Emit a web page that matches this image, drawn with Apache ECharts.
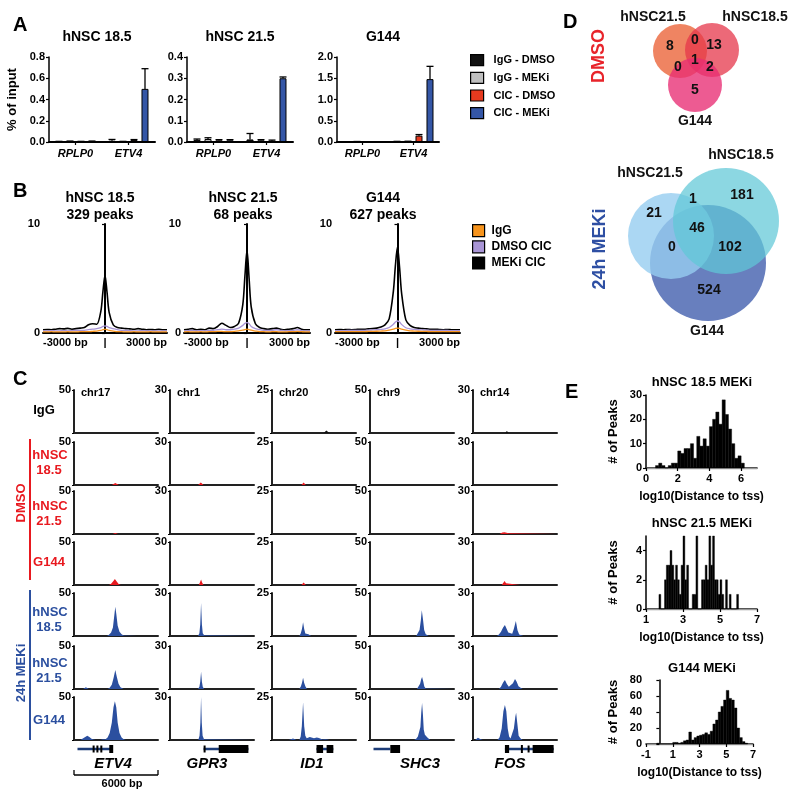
<!DOCTYPE html>
<html><head><meta charset="utf-8">
<script src="https://cdn.jsdelivr.net/npm/echarts@6/dist/echarts.min.js"></script>
<style>html,body{margin:0;padding:0;background:#fff}#c{width:800px;height:803px}</style>
</head><body><div id="c"></div>
<script>
const F = '"Liberation Sans", Arial, Helvetica, sans-serif';

// ================= Panel A data =================
const A_CATEGORIES = ['RPLP0', 'ETV4'];
const A_SERIES = ['IgG - DMSO', 'IgG - MEKi', 'CIC - DMSO', 'CIC - MEKi'];
const A_TITLES = ['hNSC 18.5', 'hNSC 21.5', 'G144'];
const A_Y_MAX = [0.8, 0.4, 2.0];
const A_Y_STEP = [0.2, 0.1, 0.5];
const A_HNSC185 = [[0.004, 0.012], [0.006, 0.004], [0.004, 0.018], [0.006, 0.50]];
const A_HNSC185_ERR = [[0.002, 0.012], [0.003, 0.002], [0.002, 0.005], [0.003, 0.19]];
const A_HNSC215 = [[0.010, 0.012], [0.014, 0.008], [0.008, 0.006], [0.008, 0.30]];
const A_HNSC215_ERR = [[0.004, 0.028], [0.006, 0.003], [0.003, 0.003], [0.003, 0.006]];
const A_G144 = [[0.004, 0.010], [0.008, 0.012], [0.004, 0.15], [0.004, 1.48]];
const A_G144_ERR = [[0.003, 0.005], [0.004, 0.006], [0.002, 0.025], [0.003, 0.30]];

// ================= Panel B data =================
const B_SERIES = ['IgG', 'DMSO CIC', 'MEKi CIC'];
const B_TITLES = [['hNSC 18.5', '329 peaks'], ['hNSC 21.5', '68 peaks'], ['G144', '627 peaks']];
const B_POS = [-3000,-2800,-2600,-2400,-2200,-2000,-1800,-1600,-1400,-1200,-1000,-800,-600,-400,-200,-100,0,100,200,400,600,800,1000,1200,1400,1600,1800,2000,2200,2400,2600,2800,3000];
const B_HNSC185_IGG  = [0.1,0.1,0.12,0.1,0.1,0.1,0.12,0.1,0.1,0.12,0.12,0.12,0.15,0.18,0.24,0.3,0.35,0.3,0.24,0.18,0.12,0.12,0.1,0.1,0.12,0.1,0.1,0.1,0.12,0.1,0.1,0.1,0.1];
const B_HNSC185_DMSO = [0.2,0.2,0.22,0.2,0.2,0.22,0.2,0.22,0.25,0.25,0.25,0.3,0.35,0.4,0.5,0.6,0.65,0.6,0.5,0.4,0.3,0.25,0.25,0.22,0.2,0.2,0.22,0.2,0.2,0.2,0.2,0.2,0.2];
const B_HNSC185_MEKI = [0.3,0.32,0.3,0.35,0.4,0.38,0.42,0.35,0.4,0.45,0.5,0.75,0.85,0.8,2.0,3.8,5.3,3.7,1.9,0.75,0.5,0.45,0.4,0.38,0.35,0.4,0.35,0.3,0.32,0.3,0.35,0.3,0.3];
const B_HNSC215_IGG  = [0.1,0.12,0.1,0.1,0.12,0.1,0.12,0.12,0.15,0.15,0.12,0.12,0.15,0.2,0.26,0.32,0.35,0.32,0.26,0.18,0.12,0.12,0.1,0.12,0.12,0.1,0.1,0.12,0.12,0.15,0.12,0.1,0.1];
const B_HNSC215_DMSO = [0.2,0.22,0.25,0.2,0.22,0.2,0.25,0.25,0.3,0.35,0.3,0.3,0.35,0.45,0.7,0.88,0.95,0.85,0.6,0.4,0.3,0.25,0.25,0.25,0.3,0.25,0.2,0.22,0.25,0.3,0.22,0.2,0.2];
const B_HNSC215_MEKI = [0.3,0.35,0.4,0.3,0.35,0.3,0.45,0.4,0.6,0.9,0.7,0.5,0.6,0.9,2.6,5.2,7.6,5.0,2.4,0.85,0.5,0.4,0.35,0.4,0.45,0.35,0.3,0.35,0.4,0.5,0.35,0.3,0.3];
const B_G144_IGG  = [0.12,0.12,0.12,0.12,0.12,0.12,0.13,0.13,0.14,0.15,0.16,0.18,0.2,0.27,0.36,0.42,0.45,0.42,0.36,0.27,0.2,0.18,0.16,0.15,0.14,0.13,0.13,0.12,0.12,0.12,0.12,0.12,0.12];
const B_G144_DMSO = [0.22,0.22,0.22,0.23,0.23,0.24,0.25,0.25,0.26,0.28,0.3,0.33,0.38,0.5,0.8,1.0,1.1,1.0,0.78,0.48,0.38,0.33,0.3,0.28,0.26,0.25,0.25,0.24,0.23,0.23,0.22,0.22,0.22];
const B_G144_MEKI = [0.3,0.32,0.3,0.32,0.3,0.32,0.35,0.35,0.38,0.4,0.45,0.55,0.75,1.3,3.8,6.2,7.9,6.0,3.6,1.2,0.7,0.5,0.45,0.4,0.38,0.35,0.35,0.32,0.3,0.32,0.3,0.3,0.3];

// ================= Panel C data ([bp position, coverage]) =================
const C_GENES = ['ETV4', 'GPR3', 'ID1', 'SHC3', 'FOS'];
const C_CHROMS = ['chr17', 'chr1', 'chr20', 'chr9', 'chr14'];
const C_YMAX = [50, 30, 25, 50, 30];
// tracks per gene: IgG, DMSO hNSC18.5, DMSO hNSC21.5, DMSO G144, MEKi hNSC18.5, MEKi hNSC21.5, MEKi G144
const C_ETV4 = [
  [[0,0],[1050,0],[1120,0.8],[1200,0],[1450,0],[1520,0.6],[1600,0],[4250,0],[4320,0.5],[4400,0],[4750,0],[4820,0.4],[4900,0],[6000,0]],
  [[0,0],[2700,0],[2820,1.2],[2950,2.2],[3080,1.2],[3200,0],[4700,0],[4780,0.5],[4860,0],[6000,0]],
  [[0,0],[2750,0],[2850,1],[2950,1.2],[3050,0.6],[3150,0],[6000,0]],
  [[0,0],[2500,0],[2650,1.5],[2800,4.5],[2920,7],[3050,4],[3200,1],[3350,0],[6000,0]],
  [[0,0],[650,0],[720,0.8],[800,0],[1450,0],[1520,0.6],[1600,0],[2350,0],[2500,1.5],[2650,4],[2780,10],[2880,24],[2950,34],[3020,26],[3120,12],[3250,5],[3400,2],[3550,0.6],[3650,0],[4500,0],[4560,0.5],[4650,0],[6000,0]],
  [[0,0],[650,0],[750,1.2],[850,2],[950,1],[1050,0],[2400,0],[2550,1.5],[2700,5],[2830,13],[2950,22],[3060,14],[3180,6],[3320,2],[3450,0.5],[3550,0],[6000,0]],
  [[0,0],[450,0],[600,1.5],[800,3.5],[950,5],[1100,3.5],[1250,1.5],[1400,0.5],[1550,0],[1850,0],[1950,1.5],[2050,1],[2250,1],[2400,3],[2550,8],[2700,20],[2820,38],[2920,45],[3020,38],[3120,20],[3250,8],[3400,3],[3550,1],[3700,0],[6000,0]]
];
const C_GPR3 = [
  [[0,0],[1850,0],[1900,0.5],[1950,0],[2700,0],[2750,0.4],[2800,0],[3800,0],[3850,0.6],[3900,0],[6000,0]],
  [[0,0],[2000,0],[2100,0.8],[2200,1.8],[2300,0.8],[2400,0],[6000,0]],
  [[0,0],[2000,0],[2060,0.5],[2120,0],[2320,0],[2380,0.5],[2440,0],[5150,0],[5200,0.4],[5260,0],[6000,0]],
  [[0,0],[2050,0],[2130,1.5],[2220,3.8],[2300,1.5],[2400,0],[4650,0],[4720,1.2],[4800,0],[6000,0]],
  [[0,0],[1650,0],[1700,0.5],[1760,0],[2000,0],[2100,2],[2160,8],[2220,23],[2280,8],[2340,2],[2440,0.5],[2540,0],[6000,0]],
  [[0,0],[2000,0],[2100,1.5],[2160,5],[2220,12],[2280,5],[2340,1.5],[2440,0],[6000,0]],
  [[0,0],[1550,0],[1620,0.6],[1700,0],[2020,0],[2110,3],[2170,12],[2220,30],[2270,12],[2330,3],[2430,0.5],[2530,0],[6000,0]]
];
const C_ID1 = [
  [[0,0],[250,0],[330,1],[400,0],[1700,0],[1780,0.6],[1850,0],[3150,0],[3230,1],[3300,0],[3700,0],[3760,0.8],[3820,0.5],[3880,1.4],[3950,1.5],[4020,0.6],[4100,0],[4800,0],[4860,0.4],[4920,0],[5400,0],[5460,0.4],[5520,0],[6000,0]],
  [[0,0],[2100,0],[2180,1],[2260,1.5],[2340,0.6],[2420,0],[3250,0],[3300,0.8],[3360,0.5],[3420,0],[3800,0],[3870,0.8],[3940,0],[5800,0],[5880,0.5],[5960,0],[6000,0]],
  [[0,0],[2150,0],[2220,0.6],[2300,0],[3250,0],[3300,0.5],[3360,0],[3650,0],[3700,0.5],[3760,0],[6000,0]],
  [[0,0],[350,0],[420,0.5],[490,0],[1050,0],[1110,0.5],[1170,0],[2100,0],[2180,1],[2260,1.5],[2340,0.8],[2420,0],[2900,0],[2960,0.4],[3020,0],[4100,0],[4170,0.6],[4240,0],[5100,0],[5160,0.8],[5230,0],[6000,0]],
  [[0,0],[350,0],[420,0.4],[490,0],[1950,0],[2050,1.5],[2140,4],[2220,8],[2300,4],[2380,1.5],[2500,0.8],[2600,1],[2700,0.5],[2800,0],[3300,0],[3380,0.5],[3460,0],[3900,0],[3960,0.5],[4040,0],[6000,0]],
  [[0,0],[500,0],[570,0.4],[640,0],[800,0],[870,0.4],[940,0],[1950,0],[2060,1.5],[2140,3.5],[2220,6.5],[2300,3.5],[2390,1.5],[2500,0],[5350,0],[5420,0.4],[5500,0],[6000,0]],
  [[0,0],[1200,0],[1350,0.5],[1500,0.8],[1600,0.4],[1750,0],[1950,0],[2050,2],[2130,8],[2220,22],[2300,8],[2380,2.5],[2480,1],[2600,2],[2700,1.8],[2800,0.8],[3000,1],[3200,1.5],[3350,1.2],[3450,0.6],[3600,0.3],[3800,0.5],[3950,0.3],[4100,0],[6000,0]]
];
const C_SHC3 = [
  [[0,0],[1250,0],[1320,0.5],[1390,0],[2700,0],[2760,0.4],[2820,0],[3150,0],[3220,0.8],[3300,0],[6000,0]],
  [[0,0],[3150,0],[3220,0.5],[3290,0],[3500,0],[3570,0.5],[3640,0],[6000,0]],
  [[0,0],[3500,0],[3560,0.6],[3630,0],[6000,0]],
  [[0,0],[3550,0],[3620,0.4],[3690,0],[6000,0]],
  [[0,0],[2000,0],[2080,0.4],[2160,0],[2600,0],[2680,0.4],[2760,0],[3300,0],[3420,2],[3540,7],[3630,18],[3700,30],[3780,20],[3870,7],[3980,2],[4100,0.5],[4200,0],[6000,0]],
  [[0,0],[3350,0],[3480,2],[3580,6],[3650,11],[3720,14],[3800,9],[3880,3],[3980,0.5],[4080,0],[6000,0]],
  [[0,0],[2500,0],[2580,0.4],[2660,0],[3150,0],[3300,1.5],[3420,4],[3520,6],[3600,15],[3660,32],[3720,43],[3780,30],[3840,12],[3920,6],[4000,5],[4100,3],[4200,1],[4300,0],[6000,0]]
];
const C_FOS = [
  [[0,0],[500,0],[570,1],[640,0.5],[700,0],[2300,0],[2370,1],[2420,1.4],[2480,0.8],[2550,0],[3500,0],[3560,0.5],[3620,0],[3900,0],[3960,0.4],[4020,0],[5400,0],[5460,0.5],[5520,0],[6000,0]],
  [[0,0],[2300,0],[2360,0.5],[2420,0],[2600,0],[2680,1],[2760,0],[4400,0],[4460,0.5],[4520,0],[5500,0],[5570,0.6],[5640,0],[6000,0]],
  [[0,0],[1900,0],[1980,0.8],[2100,1],[2250,1.2],[2400,0.8],[2550,0.5],[2700,0.6],[2800,0],[6000,0]],
  [[0,0],[300,0],[360,0.4],[420,0],[1000,0],[1060,0.4],[1120,0],[2050,0],[2150,1],[2260,2.8],[2360,1.2],[2460,0],[3350,0],[3420,0.5],[3490,0],[4100,0],[4160,0.5],[4220,0],[4950,0],[5020,0.5],[5090,0],[5700,0],[5780,0.6],[5860,0],[6000,0]],
  [[0,0],[350,0],[420,0.5],[490,0],[800,0],[880,0.5],[960,0],[1700,0],[1850,1],[2000,3],[2150,6],[2280,7.7],[2400,5],[2520,2.5],[2650,1.5],[2800,1.5],[2920,5],[3060,10.5],[3180,4],[3300,1],[3450,0.5],[3600,0],[5700,0],[5780,0.4],[5860,0],[6000,0]],
  [[0,0],[350,0],[430,0.4],[510,0],[1850,0],[2000,1.5],[2150,4.5],[2280,6.3],[2420,3.5],[2560,1.5],[2700,1.5],[2850,4],[3000,7],[3120,5],[3250,2],[3400,0.8],[3550,0],[6000,0]],
  [[0,0],[150,0],[250,1],[350,1.5],[450,1],[550,0.5],[700,0],[1000,0],[1080,0.4],[1160,0],[1750,0],[1900,2],[2050,8],[2170,20],[2280,24.4],[2380,20],[2480,8],[2580,2.5],[2680,1],[2800,2],[2920,8],[3020,16],[3080,19],[3160,12],[3260,3],[3400,1],[3550,0],[6000,0]]
];
// gene models: [start bp, end bp, kind]  kind 0 = intron line, 1 = exon, 2 = small exon
const C_MODEL_ETV4 = [[250,2780,0],[1330,1400,2],[1600,1660,2],[1880,1950,2],[2520,2800,1]];
const C_MODEL_GPR3 = [[2400,5600,0],[2400,2460,2],[3480,5600,1]];
const C_MODEL_ID1  = [[3180,4380,0],[3180,3650,1],[3900,4380,1]];
const C_MODEL_SHC3 = [[250,1450,0],[1450,2150,1]];
const C_MODEL_FOS  = [[2280,5760,0],[2280,2580,1],[3420,3540,1],[3900,3960,2],[4260,5760,1]];
const C_SCALE_BP = 6000;

// ================= Panel D data =================
const D_DMSO_CIRCLES = [[120,51,27],[152,50,27],[135,85,27]];   // hNSC21.5, hNSC18.5, G144
const D_DMSO_COUNTS = [['8',110,46],['0',135,40],['13',154,45],['1',135,60],['0',118,67],['2',150,67],['5',135,90]];
const D_DMSO_SETS = [['hNSC21.5',93,17],['hNSC18.5',195,17],['G144',135,121]];
const D_MEKI_CIRCLES = [[148,263,58],[111,236,43],[166,221,53]]; // G144, hNSC21.5, hNSC18.5
const D_MEKI_COUNTS = [['21',94,213],['1',133,199],['181',182,195],['46',137,228],['0',112,247],['102',170,247],['524',149,290]];
const D_MEKI_SETS = [['hNSC21.5',90,173],['hNSC18.5',181,155],['G144',147,331]];

// ================= Panel E data =================
const E_TITLES = ['hNSC 18.5 MEKi', 'hNSC 21.5 MEKi', 'G144 MEKi'];
const E1_BIN_START = [0.6,0.8,1.0,1.2,1.4,1.6,1.8,2.0,2.2,2.4,2.6,2.8,3.0,3.2,3.4,3.6,3.8,4.0,4.2,4.4,4.6,4.8,5.0,5.2,5.4,5.6,5.8,6.0];
const E1_COUNTS    = [1,2,1,0,1,2,2,7,6,8,8,10,4,13,9,12,9,17,20,23,18,28,22,16,10,4,5,2];
const E2_BIN_START = [1.7,1.8,1.9,2.0,2.1,2.2,2.3,2.4,2.5,2.6,2.7,2.8,2.9,3.0,3.1,3.2,3.3,3.4,3.5,3.6,3.7,3.8,3.9,4.0,4.1,4.2,4.3,4.4,4.5,4.6,4.7,4.8,4.9,5.0,5.1,5.2,5.3,5.4,5.5,5.6,5.7,5.8,5.9];
const E2_COUNTS    = [1,0,0,2,3,3,4,3,2,3,2,1,3,5,2,3,0,0,1,1,5,0,0,2,2,3,2,5,3,5,2,2,1,2,1,0,2,0,1,0,0,0,1];
const E3_BIN_START = [-0.2,0.0,0.2,0.4,0.6,0.8,1.0,1.2,1.4,1.6,1.8,2.0,2.2,2.4,2.6,2.8,3.0,3.2,3.4,3.6,3.8,4.0,4.2,4.4,4.6,4.8,5.0,5.2,5.4,5.6,5.8,6.0,6.2,6.4];
const E3_COUNTS    = [1,0,0,0,0,0,2,2,1,2,4,5,15,5,8,10,11,12,14,12,16,25,30,40,47,55,67,57,55,45,20,8,3,1];

// ================= build =================
function merge(a, b) {
  const o = Object.assign({}, a);
  for (const k in b) {
    const v = b[k];
    if (v && typeof v === 'object' && !Array.isArray(v) && a[k] && typeof a[k] === 'object' && !Array.isArray(a[k])) o[k] = merge(a[k], v);
    else o[k] = v;
  }
  return o;
}
const AX = {
  splitLine: { show: false },
  axisLine: { show: true, lineStyle: { color: '#000', width: 1.5 } },
  axisTick: { show: true, length: 3, lineStyle: { color: '#000', width: 1.2 } },
  axisLabel: { color: '#000', fontFamily: F, fontWeight: 'bold', fontSize: 11, margin: 4 },
  nameTextStyle: { color: '#000', fontFamily: F, fontWeight: 'bold', fontSize: 13 }
};
const HIDDEN = { show: false, splitLine: { show: false } };

const grids = [], xAxis = [], yAxis = [], series = [], graphic = [];
function addGrid(g, xa, ya) {
  grids.push(g);
  const gi = grids.length - 1;
  xa.gridIndex = gi; ya.gridIndex = gi;
  xAxis.push(xa); yAxis.push(ya);
  return { xi: xAxis.length - 1, yi: yAxis.length - 1, gi };
}
function T(text, x, y, size, o) {
  o = o || {};
  graphic.push({
    type: 'text', x, y, rotation: o.rot || 0, silent: true, z: 100,
    style: {
      text, fill: o.color || '#000',
      font: (o.italic ? 'italic ' : '') + (o.normal ? '' : 'bold ') + size + 'px ' + F,
      align: o.align || 'center', verticalAlign: 'middle',
      textAlign: o.align || 'center', textVerticalAlign: 'middle'
    }
  });
}
function L(x1, y1, x2, y2, color, w) {
  graphic.push({ type: 'line', silent: true, shape: { x1, y1, x2, y2 }, style: { stroke: color, lineWidth: w } });
}

// ---------- Panel A ----------
const A_VALUES = [A_HNSC185, A_HNSC215, A_G144];
const A_ERRORS = [A_HNSC185_ERR, A_HNSC215_ERR, A_G144_ERR];
const A_COLORS = ['#111111', '#bfbfbf', '#e63a1f', '#3456a6'];
const A_GRIDS = [
  { left: 49, top: 57, width: 106, height: 85 },
  { left: 187, top: 57, width: 106, height: 85 },
  { left: 337, top: 57, width: 102, height: 85 }
];
const A_TITLE_X = [97, 240, 383];
A_GRIDS.forEach((g, gi) => {
  const ax = addGrid(g,
    merge(AX, { type: 'category', data: A_CATEGORIES, axisLine: { lineStyle: { width: 2 } }, axisTick: { alignWithLabel: true, length: 3 }, axisLabel: { fontStyle: 'italic', margin: 6 } }),
    merge(AX, { type: 'value', min: 0, max: A_Y_MAX[gi], interval: A_Y_STEP[gi], axisLabel: { formatter: v => v.toFixed(1) },
      name: gi === 0 ? '% of input' : '', nameLocation: 'middle', nameGap: 30, nameRotate: 90 }));
  A_SERIES.forEach((nm, k) => {
    series.push({ type: 'bar', name: nm, xAxisIndex: ax.xi, yAxisIndex: ax.yi, data: A_VALUES[gi][k], barWidth: 7, barGap: '57%',
      itemStyle: { color: A_COLORS[k], borderColor: '#000', borderWidth: 1 }, z: 2, silent: true });
  });
  A_SERIES.forEach((nm, k) => {
    const off = (k - 1.5) * 11;
    series.push({ type: 'custom', xAxisIndex: ax.xi, yAxisIndex: ax.yi, silent: true, z: 3,
      data: A_CATEGORIES.map((c, ci) => [ci, A_VALUES[gi][k][ci], A_ERRORS[gi][k][ci]]),
      renderItem: (p, api) => {
        const c = api.value(0), v = api.value(1), e = api.value(2);
        const p0 = api.coord([c, v]), p1 = api.coord([c, v + e]);
        const x = p0[0] + off;
        return { type: 'group', children: [
          { type: 'line', shape: { x1: x, y1: p0[1], x2: x, y2: p1[1] }, style: { stroke: '#000', lineWidth: 1.3 } },
          { type: 'line', shape: { x1: x - 3.5, y1: p1[1], x2: x + 3.5, y2: p1[1] }, style: { stroke: '#000', lineWidth: 1.3 } }
        ] };
      } });
  });
  T(A_TITLES[gi], A_TITLE_X[gi], 37, 14);
});
T('A', 13, 25, 20, { align: 'left' });

// ---------- Panel B ----------
const B_DATA = [
  [B_HNSC185_IGG, B_HNSC185_DMSO, B_HNSC185_MEKI],
  [B_HNSC215_IGG, B_HNSC215_DMSO, B_HNSC215_MEKI],
  [B_G144_IGG, B_G144_DMSO, B_G144_MEKI]
];
const B_COLORS = ['#f7941d', '#a995d6', '#000000'];
const B_GRIDS = [
  { left: 43, top: 224, width: 124, height: 109 },
  { left: 184, top: 224, width: 126, height: 109 },
  { left: 335, top: 224, width: 125, height: 109 }
];
const B_TITLE_X = [100, 243, 383];
B_GRIDS.forEach((g, gi) => {
  const ax = addGrid(g,
    merge(AX, { type: 'value', min: -3000, max: 3000, interval: 3000, axisLine: { lineStyle: { width: 2 } }, axisTick: { show: false },
      axisLabel: { fontSize: 11, margin: 4, alignMinLabel: 'left', alignMaxLabel: 'right', formatter: v => v === 0 ? '|' : (v + ' bp') } }),
    merge(AX, { type: 'value', min: 0, max: 10, interval: 10, axisLine: { lineStyle: { width: 2 } }, axisLabel: { margin: 3 } }));
  [2, 1, 0].forEach(k => {
    series.push({ type: 'line', name: B_SERIES[k], xAxisIndex: ax.xi, yAxisIndex: ax.yi, color: B_COLORS[k],
      data: B_POS.map((p, i) => [p, B_DATA[gi][k][i]]), symbol: 'none', smooth: 0.3, silent: true,
      lineStyle: { width: k === 2 ? 1.6 : 1.3, color: B_COLORS[k] }, z: 2 + (2 - k) });
  });
  T(B_TITLES[gi][0], B_TITLE_X[gi], 198, 14);
  T(B_TITLES[gi][1], B_TITLE_X[gi], 215, 14);
});
T('B', 13, 191, 20, { align: 'left' });

// ---------- Panel C ----------
const C_TRACKS = [C_ETV4, C_GPR3, C_ID1, C_SHC3, C_FOS];
const C_MODELS = [C_MODEL_ETV4, C_MODEL_GPR3, C_MODEL_ID1, C_MODEL_SHC3, C_MODEL_FOS];
const C_ROW_COLORS = ['#111111', '#e8191f', '#e8191f', '#e8191f', '#2b4f9f', '#2b4f9f', '#2b4f9f'];
const C_LEFT = [74, 170, 272, 370, 473];
const C_TOP = [390, 442, 491, 542, 593, 646, 697];
C_TRACKS.forEach((tracks, ci) => {
  tracks.forEach((tr, ri) => {
    const M = C_YMAX[ci];
    const ax = addGrid({ left: C_LEFT[ci], top: C_TOP[ri], width: 84, height: 43 },
      merge(AX, { type: 'value', min: 0, max: 6000, axisLine: { lineStyle: { width: 2, color: '#222' } }, axisTick: { show: false }, axisLabel: { show: false } }),
      merge(AX, { type: 'value', min: 0, max: M, interval: M, axisLine: { lineStyle: { width: 2, color: '#222' } }, axisTick: { length: 2 },
        axisLabel: { margin: 3, formatter: v => v === M ? String(M) : '' } }));
    series.push({ type: 'line', xAxisIndex: ax.xi, yAxisIndex: ax.yi, data: tr, symbol: 'none', silent: true, clip: true,
      lineStyle: { width: 0, color: C_ROW_COLORS[ri] }, itemStyle: { color: C_ROW_COLORS[ri] },
      areaStyle: { color: C_ROW_COLORS[ri], opacity: 1 }, z: 2 });
  });
  // gene model
  const gax = addGrid({ left: C_LEFT[ci], top: 744, width: 84, height: 10 },
    merge(HIDDEN, { type: 'value', min: 0, max: 6000 }), merge(HIDDEN, { type: 'value', min: 0, max: 1 }));
  series.push({ type: 'custom', xAxisIndex: gax.xi, yAxisIndex: gax.yi, silent: true, data: C_MODELS[ci],
    encode: { x: [0, 1] },
    renderItem: (p, api) => {
      const a = api.coord([api.value(0), 0.5]), b = api.coord([api.value(1), 0.5]);
      const kind = api.value(2);
      const h = kind === 0 ? 2.5 : (kind === 1 ? 8 : 7);
      const col = kind === 0 ? '#1d3c78' : '#000';
      return { type: 'rect', shape: { x: a[0], y: a[1] - h / 2, width: Math.max(b[0] - a[0], 2), height: h }, style: { fill: col } };
    } });
  T(C_CHROMS[ci], C_LEFT[ci] + 7, 393, 11, { align: 'left' });
});
const C_GENE_LABEL_X = [113, 207, 312, 420, 510];
C_GENES.forEach((g, i) => T(g, C_GENE_LABEL_X[i], 764, 15, { italic: true }));
// scale bar (6000 bp) under first column
const sax = addGrid({ left: C_LEFT[0], top: 770, width: 84, height: 5 },
  merge(HIDDEN, { type: 'value', min: 0, max: 6000 }), merge(HIDDEN, { type: 'value', min: 0, max: 1 }));
series.push({ type: 'custom', xAxisIndex: sax.xi, yAxisIndex: sax.yi, silent: true, data: [[0, C_SCALE_BP]], encode: { x: [0, 1] },
  renderItem: (p, api) => {
    const a = api.coord([api.value(0), 0]), b = api.coord([api.value(1), 0]), t = api.coord([0, 1]);
    const st = { stroke: '#000', lineWidth: 1.3 };
    return { type: 'group', children: [
      { type: 'line', shape: { x1: a[0], y1: a[1], x2: b[0], y2: b[1] }, style: st },
      { type: 'line', shape: { x1: a[0], y1: a[1], x2: a[0], y2: t[1] }, style: st },
      { type: 'line', shape: { x1: b[0], y1: b[1], x2: b[0], y2: t[1] }, style: st }
    ] };
  } });
T('6000 bp', 122, 784, 11);
// row labels
T('IgG', 44, 410, 13);
T('hNSC', 50, 455, 13, { color: '#e8191f' }); T('18.5', 49, 470, 13, { color: '#e8191f' });
T('hNSC', 50, 506, 13, { color: '#e8191f' }); T('21.5', 49, 521, 13, { color: '#e8191f' });
T('G144', 49, 562, 13, { color: '#e8191f' });
T('hNSC', 50, 612, 13, { color: '#2b4f9f' }); T('18.5', 49, 627, 13, { color: '#2b4f9f' });
T('hNSC', 50, 663, 13, { color: '#2b4f9f' }); T('21.5', 49, 678, 13, { color: '#2b4f9f' });
T('G144', 49, 720, 13, { color: '#2b4f9f' });
L(30, 439, 30, 580, '#e8191f', 2);
L(30, 590, 30, 740, '#2b4f9f', 2);
T('DMSO', 21, 503, 13, { rot: Math.PI / 2, color: '#e8191f' });
T('24h MEKi', 21, 673, 13, { rot: Math.PI / 2, color: '#2b4f9f' });
T('C', 13, 379, 20, { align: 'left' });

// ---------- Panel D ----------
const dax = addGrid({ left: 560, top: 0, width: 240, height: 340 },
  merge(HIDDEN, { type: 'value', min: 0, max: 240 }), merge(HIDDEN, { type: 'value', min: 0, max: 340, inverse: true }));
function vennCircles(circles, fills) {
  series.push({ type: 'custom', xAxisIndex: dax.xi, yAxisIndex: dax.yi, silent: true, data: circles, z: 2,
    renderItem: (p, api) => {
      const c = api.coord([api.value(0), api.value(1)]);
      const r = api.size([api.value(2), 0])[0];
      return { type: 'circle', shape: { cx: c[0], cy: c[1], r }, style: { fill: fills[p.dataIndex] } };
    } });
}
function vennText(items, size, z) {
  series.push({ type: 'custom', xAxisIndex: dax.xi, yAxisIndex: dax.yi, silent: true, z: z,
    data: items.map(d => [d[1], d[2]]),
    renderItem: (p, api) => {
      const c = api.coord([api.value(0), api.value(1)]);
      const t = items[p.dataIndex][0];
      return { type: 'text', x: c[0], y: c[1], style: { text: t, font: 'bold ' + size + 'px ' + F, fill: '#111', align: 'center', verticalAlign: 'middle', textAlign: 'center', textVerticalAlign: 'middle' } };
    } });
}
vennCircles(D_DMSO_CIRCLES, ['rgba(236,110,70,0.85)', 'rgba(230,55,75,0.75)', 'rgba(232,45,115,0.78)']);
vennCircles(D_MEKI_CIRCLES, ['rgb(104,127,190)', 'rgba(150,205,240,0.8)', 'rgba(95,200,215,0.72)']);
vennText(D_DMSO_COUNTS, 14, 5);
vennText(D_DMSO_SETS, 14, 5);
vennText(D_MEKI_COUNTS, 14, 5);
vennText(D_MEKI_SETS, 14, 5);
T('D', 563, 22, 20, { align: 'left' });
T('DMSO', 599, 56, 18, { rot: Math.PI / 2, color: '#e8242b' });
T('24h MEKi', 600, 249, 18, { rot: Math.PI / 2, color: '#2e4fa3' });

// ---------- Panel E ----------
const E_DATA = [[E1_BIN_START, E1_COUNTS, 0.2], [E2_BIN_START, E2_COUNTS, 0.1], [E3_BIN_START, E3_COUNTS, 0.2]];
const E_GRIDS = [
  { left: 646, top: 395, width: 111, height: 73 },
  { left: 646, top: 536, width: 111, height: 73 },
  { left: 646, top: 680, width: 107, height: 64 }
];
const E_X = [[0, 7, 2], [1, 7, 2], [-1, 7, 2]];
const E_Y = [[30, 10], [5, 2], [80, 20]];
const E_SHOW_MAX_X = [false, true, true];
const E_SHOW_MAX_Y = [true, false, true];
const E_TITLE_Y = [382, 523, 668];
E_GRIDS.forEach((g, gi) => {
  const ax = addGrid(g,
    merge(AX, { type: 'value', min: E_X[gi][0], max: E_X[gi][1], interval: E_X[gi][2], offset: 3, axisLine: { lineStyle: { width: 1.5 } },
      name: 'log10(Distance to tss)', nameLocation: 'middle', nameGap: 20, nameTextStyle: { fontSize: 12 },
      axisLabel: { margin: 2, showMaxLabel: E_SHOW_MAX_X[gi] } }),
    merge(AX, { type: 'value', min: 0, max: E_Y[gi][0], interval: E_Y[gi][1], axisLine: { lineStyle: { width: 1.5 } },
      axisLabel: { showMaxLabel: E_SHOW_MAX_Y[gi] },
      name: '# of Peaks', nameLocation: 'middle', nameGap: 26, nameRotate: 90, nameTextStyle: { fontSize: 13 } }));
  // gray zero baseline
  xAxis.push(merge(HIDDEN, { show: true, type: 'value', gridIndex: ax.gi, min: E_X[gi][0], max: E_X[gi][1], position: 'bottom',
    axisLine: { show: true, lineStyle: { color: '#9a9a9a', width: 1.3 } }, axisTick: { show: false }, axisLabel: { show: false } }));
  const [starts, counts, w] = E_DATA[gi];
  series.push({ type: 'custom', xAxisIndex: ax.xi, yAxisIndex: ax.yi, silent: true, z: 3,
    data: starts.map((s, i) => [s, s + w, counts[i]]), encode: { x: [0, 1], y: 2 },
    renderItem: (p, api) => {
      const a = api.coord([api.value(0), 0]), b = api.coord([api.value(1), api.value(2)]);
      return { type: 'rect', shape: { x: a[0], y: b[1], width: b[0] - a[0], height: a[1] - b[1] }, style: { fill: '#000', stroke: '#000', lineWidth: 0.4 } };
    } });
  T(E_TITLES[gi], 702, E_TITLE_Y[gi], 13);
});
T('E', 565, 392, 20, { align: 'left' });

const option = {
  backgroundColor: '#fff',
  animation: false,
  textStyle: { fontFamily: F },
  grid: grids, xAxis, yAxis, series, graphic,
  legend: [
    { data: A_SERIES, orient: 'vertical', left: 470, top: 54, padding: 0, icon: 'rect', itemWidth: 13, itemHeight: 11, itemGap: 5.5, selectedMode: false,
      itemStyle: { borderColor: '#000', borderWidth: 1.2 },
      textStyle: { fontFamily: F, fontWeight: 'bold', fontSize: 11, color: '#000', padding: [0, 0, 0, 5] } },
    { data: B_SERIES, orient: 'vertical', left: 472, top: 224, padding: 0, icon: 'rect', itemWidth: 12, itemHeight: 12, itemGap: 3, selectedMode: false,
      itemStyle: { borderColor: '#000', borderWidth: 1.2 },
      textStyle: { fontFamily: F, fontWeight: 'bold', fontSize: 12, color: '#000', padding: [0, 0, 0, 2] } }
  ]
};
const chart = echarts.init(document.getElementById('c'));
chart.setOption(option);
</script></body></html>
